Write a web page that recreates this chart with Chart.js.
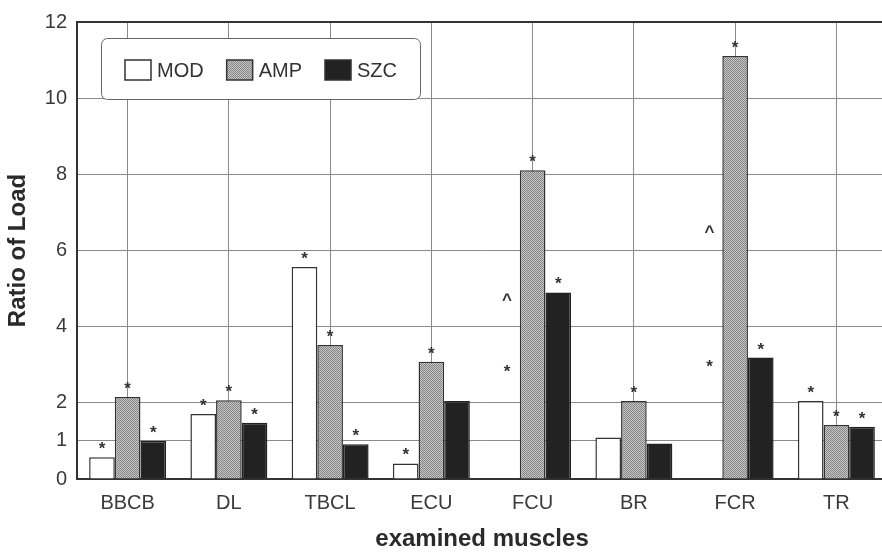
<!DOCTYPE html>
<html>
<head>
<meta charset="utf-8">
<script src="https://cdn.jsdelivr.net/npm/chart.js@4.4.1/dist/chart.umd.min.js"></script>
<style>
  html, body { margin: 0; padding: 0; background: #fff; overflow: hidden; }
  #wrap { width: 882px; height: 553px; overflow: hidden; }
</style>
</head>
<body>
<div id="wrap"><canvas id="chart" width="892" height="553"></canvas></div>
<script>
const muscles = ['BBCB', 'DL', 'TBCL', 'ECU', 'FCU', 'BR', 'FCR', 'TR'];
const modValues = [0.57, 1.71, 5.57, 0.41, 0, 1.09, 0, 2.05];
const ampValues = [2.15, 2.07, 3.52, 3.08, 8.11, 2.05, 11.11, 1.42];
const szcValues = [1.0, 1.48, 0.91, 2.05, 4.9, 0.93, 3.19, 1.37];
const yTicks = [0, 1, 2, 4, 6, 8, 10, 12];

// star above a bar (1 = marked)
const modStars = [1, 1, 1, 1, 0, 0, 0, 1];
const ampStars = [1, 1, 1, 1, 1, 1, 1, 1];
const szcStars = [1, 1, 1, 0, 1, 0, 1, 1];
// loose marks sitting in the empty MOD slot
const extraMarkCats = ['FCU', 'FCU', 'FCR', 'FCR'];
const extraMarkSyms = ['*', '^', '*', '^'];
const extraMarkValues = [2.93, 4.84, 3.08, 6.63];

const FONT = '"Liberation Sans", Arial, sans-serif';
const ctx = document.getElementById('chart').getContext('2d');

function stipple() {
  const c = document.createElement('canvas');
  c.width = 2; c.height = 2;
  const g = c.getContext('2d');
  g.fillStyle = '#c6c6c6'; g.fillRect(0, 0, 2, 2);
  g.fillStyle = '#858585'; g.fillRect(0, 0, 1, 1); g.fillRect(1, 1, 1, 1);
  return ctx.createPattern(c, 'repeat');
}

const marks = {
  id: 'marks',
  afterDatasetsDraw(chart) {
    const c = chart.ctx;
    c.save();
    c.font = 'bold 17px ' + FONT;
    c.fillStyle = '#333';
    c.textAlign = 'center';
    c.textBaseline = 'alphabetic';
    chart.data.datasets.forEach((ds, i) => {
      const meta = chart.getDatasetMeta(i);
      meta.data.forEach((el, j) => {
        if (ds.stars[j]) c.fillText('*', el.x, el.y - 3);
      });
    });
    const modMeta = chart.getDatasetMeta(0);
    extraMarkCats.forEach((cat, k) => {
      const el = modMeta.data[muscles.indexOf(cat)];
      const y = chart.scales.y.getPixelForValue(extraMarkValues[k]);
      c.fillText(extraMarkSyms[k], el.x, y + 10);
    });
    c.restore();
  }
};

const legendBox = {
  id: 'legendBox',
  afterDraw(chart) {
    const c = chart.ctx;
    c.save();
    c.beginPath();
    c.roundRect(101.5, 38.5, 319, 61, 6);
    c.fillStyle = '#fff';
    c.fill();
    c.strokeStyle = '#666';
    c.lineWidth = 1;
    c.stroke();
    c.font = '20px ' + FONT;
    c.textBaseline = 'middle';
    let x = 125;
    chart.data.datasets.forEach(ds => {
      c.fillStyle = ds.backgroundColor;
      c.fillRect(x, 60, 26, 20);
      c.strokeStyle = '#333';
      c.lineWidth = 1.5;
      c.strokeRect(x, 60, 26, 20);
      c.fillStyle = '#333';
      c.fillText(ds.label, x + 32, 71);
      x += 32 + c.measureText(ds.label).width + 23;
    });
    c.restore();
  }
};

new Chart(ctx, {
  type: 'bar',
  data: {
    labels: muscles,
    datasets: [
      { label: 'MOD', data: modValues, backgroundColor: '#ffffff', borderColor: '#333', borderWidth: 1.5, stars: modStars },
      { label: 'AMP', data: ampValues, backgroundColor: stipple(), borderColor: '#333', borderWidth: 1.5, stars: ampStars },
      { label: 'SZC', data: szcValues, backgroundColor: '#222222', borderColor: '#222', borderWidth: 1.5, stars: szcStars }
    ]
  },
  options: {
    responsive: false,
    animation: false,
    layout: { padding: { top: 17, right: 5, left: 0, bottom: 0 } },
    datasets: { bar: { barPercentage: 1, categoryPercentage: 0.76 } },
    plugins: { legend: { display: false }, tooltip: { enabled: false } },
    scales: {
      x: {
        grid: { offset: false, color: '#8a8a8a', lineWidth: 1, drawTicks: false },
        border: { color: '#333', width: 2 },
        ticks: { color: '#3a3a3a', font: { family: FONT, size: 20 }, padding: 12 },
        title: {
          display: true, text: 'examined muscles', color: '#2a2a2a',
          font: { family: FONT, size: 24, weight: 'bold' }, padding: { top: 0, bottom: -1 }
        },
        afterFit(s) { s.height = 74; }
      },
      y: {
        min: 0,
        max: 12,
        afterBuildTicks(s) { s.ticks = yTicks.map(v => ({ value: v })); },
        grid: {
          color: c => c.tick && c.tick.value === 12 ? '#333' : '#8a8a8a',
          lineWidth: c => c.tick && c.tick.value === 12 ? 2 : 1,
          drawTicks: false
        },
        border: { color: '#333', width: 2 },
        ticks: { color: '#3a3a3a', font: { family: FONT, size: 20 }, padding: 10 },
        title: {
          display: true, text: 'Ratio of Load', color: '#2a2a2a',
          font: { family: FONT, size: 24, weight: 'bold' }, padding: { top: 4, bottom: 0 }
        },
        afterFit(s) { s.width = 77; }
      }
    }
  },
  plugins: [marks, legendBox]
});
</script>
</body>
</html>
